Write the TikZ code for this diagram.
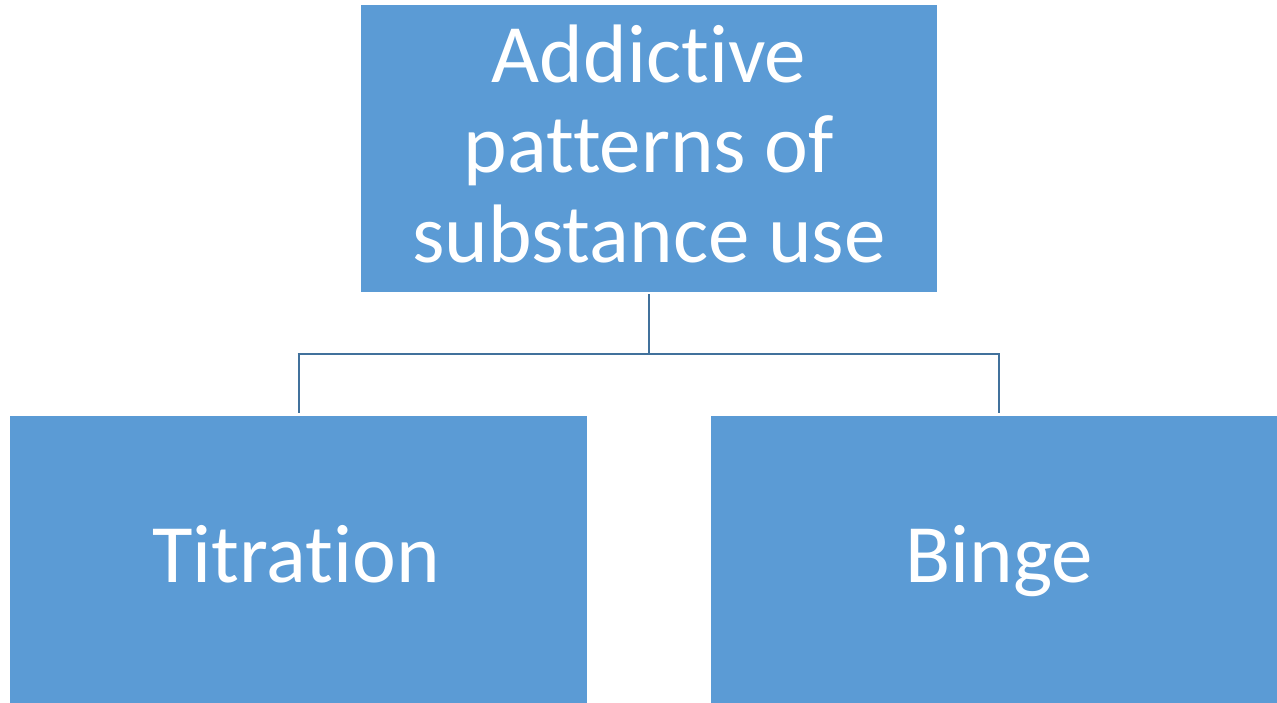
\documentclass[tikz,border=0pt]{standalone}
\usepackage{fontspec}
\setmainfont{Carlito}[Ligatures={NoCommon,NoContextual}]
\definecolor{boxfill}{HTML}{5B9BD5}
\definecolor{linecol}{HTML}{41719C}
\begin{document}
\begin{tikzpicture}[x=1pt,y=-1pt,
  box/.style={fill=boxfill,draw=none,text=white,inner sep=0pt,align=center,
    font=\fontsize{83}{90}\selectfont,minimum width=576pt,minimum height=287pt},
  lbl/.style={text=white,inner sep=0pt,align=center,font=\fontsize{83}{90}\selectfont},
  conn/.style={draw=linecol,line width=2pt}]
\useasboundingbox (0,0) rectangle (1277,703);
\node[box] (top) at (649,148.5) {};
\node[lbl,anchor=north] (toptext) at (649,25) {Addictive\\patterns of\\substance use};
\node[box,minimum width=577pt] (left) at (298.5,559.5) {};
\node[box] (right) at (999,559.5) {};
\node[lbl,anchor=base] (ltext) at (296,582) {Titration};
\node[lbl,anchor=base] (rtext) at (999,582) {Binge};
\coordinate (mid) at (649,354);
\draw[conn] ([yshift=-2pt]top.south) -- (mid);
\draw[conn] (mid -| left.north) -- ([yshift=3pt]left.north);
\draw[conn] ([xshift=-1pt]mid -| left.north) -- ([xshift=1pt]mid -| right.north);
\draw[conn] (mid -| right.north) -- ([yshift=3pt]right.north);
\end{tikzpicture}
\end{document}
